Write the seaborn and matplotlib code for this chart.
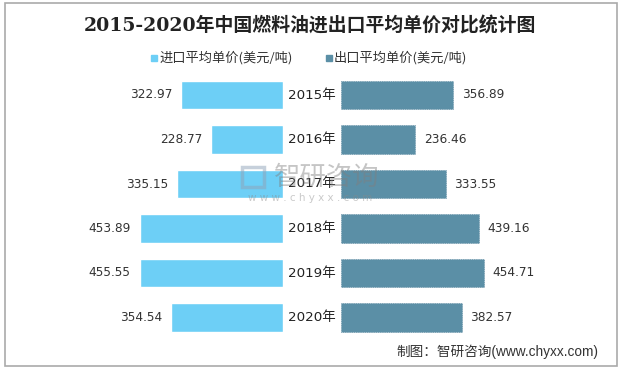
import pandas as pd
import matplotlib.pyplot as plt
import seaborn as sns
from matplotlib.patches import Rectangle

plt.switch_backend('Agg')

# data
years = ['2015年', '2016年', '2017年', '2018年', '2019年', '2020年']
import_price = [322.97, 228.77, 335.15, 453.89, 455.55, 354.54]
export_price = [356.89, 236.46, 333.55, 439.16, 454.71, 382.57]
legend_labels = ['进口平均单价(美元/吨)', '出口平均单价(美元/吨)']

c_import = '#6DCFF6'
c_export = '#5B8FA6'

sns.set_style('white')
plt.rcParams['font.family'] = ['DejaVu Sans', 'Noto Sans CJK SC']

df = pd.DataFrame({'year': years, 'imp': import_price, 'exp': export_price})

W, H = 621, 369
fig = plt.figure(figsize=(W / 100, H / 100), dpi=100)

# axes geometry in pixels
scale = 0.315          # px per unit
ytop, ybot = 72.75, 339.75
axl = fig.add_axes([20 / W, (H - ybot) / H, 263 / W, (ybot - ytop) / H])
axr = fig.add_axes([341 / W, (H - ybot) / H, 260 / W, (ybot - ytop) / H])

sns.barplot(data=df, x='imp', y='year', orient='h', color=c_import,
            width=0.65, saturation=1, ax=axl)
sns.barplot(data=df, x='exp', y='year', orient='h', color=c_export,
            width=0.65, saturation=1, ax=axr, edgecolor='#52829A',
            linewidth=0.5, linestyle=':')

axl.set_xlim(263 / scale, 0)
axr.set_xlim(0, 260 / scale)
for ax in (axl, axr):
    ax.set_ylim(5.5, -0.5)
    ax.set_axis_off()

for i, v in enumerate(import_price):
    axl.text(v + 28, i, f'{v:.2f}', ha='right', va='center', fontsize=8.7, color='#333333')
for i, v in enumerate(export_price):
    axr.text(v + 26, i, f'{v:.2f}', ha='left', va='center', fontsize=8.7, color='#333333')
    axr.text(-92, i, years[i], ha='center', va='center', fontsize=9.7, color='#222222')

fig.text(310 / W, 1 - 26 / H, '2015-2020年中国燃料油进出口平均单价对比统计图',
         ha='center', va='center', fontsize=13.6, fontweight='bold', color='#222222',
         family=['DejaVu Serif', 'Noto Sans CJK SC'])

# legend
for x0, lab, col in [(151, legend_labels[0], c_import), (326, legend_labels[1], c_export)]:
    fig.patches.append(Rectangle((x0 / W, 1 - 61 / H), 6 / W, 6 / H,
                                 transform=fig.transFigure, color=col))
    fig.text((x0 + 8) / W, 1 - 58 / H, lab, ha='left', va='center',
             fontsize=9.5, color='#333333', family=['Noto Sans CJK SC'])

# watermark
fig.patches.append(Rectangle((242 / W, 1 - 187 / H), 22 / W, 20 / H, transform=fig.transFigure,
                             fill=False, edgecolor='#8FA3B8', linewidth=2.5, alpha=0.5))
fig.text(327 / W, 1 - 177 / H, '智研咨询', ha='center', va='center', fontsize=19,
         color='#7F7F7F', alpha=0.45, family=['Noto Sans CJK SC'])
fig.text(310 / W, 1 - 198 / H, 'w w w . c h y x x . c o m', ha='center', va='center',
         fontsize=7.5, color='#8A8A8A', alpha=0.45)

# source note
fig.text(598 / W, 1 - 352 / H, '制图：智研咨询(www.chyxx.com)', ha='right', va='center',
         fontsize=9.8, color='#333333', family=['Liberation Sans', 'Noto Sans CJK SC'])

# frame around the picture
fig.patches.append(Rectangle((5 / W, 3 / H), 612 / W, 363 / H, transform=fig.transFigure,
                             fill=False, edgecolor='#AAAAAA', linewidth=1.2))

fig.savefig('out.png', dpi=100)
plt.close()
